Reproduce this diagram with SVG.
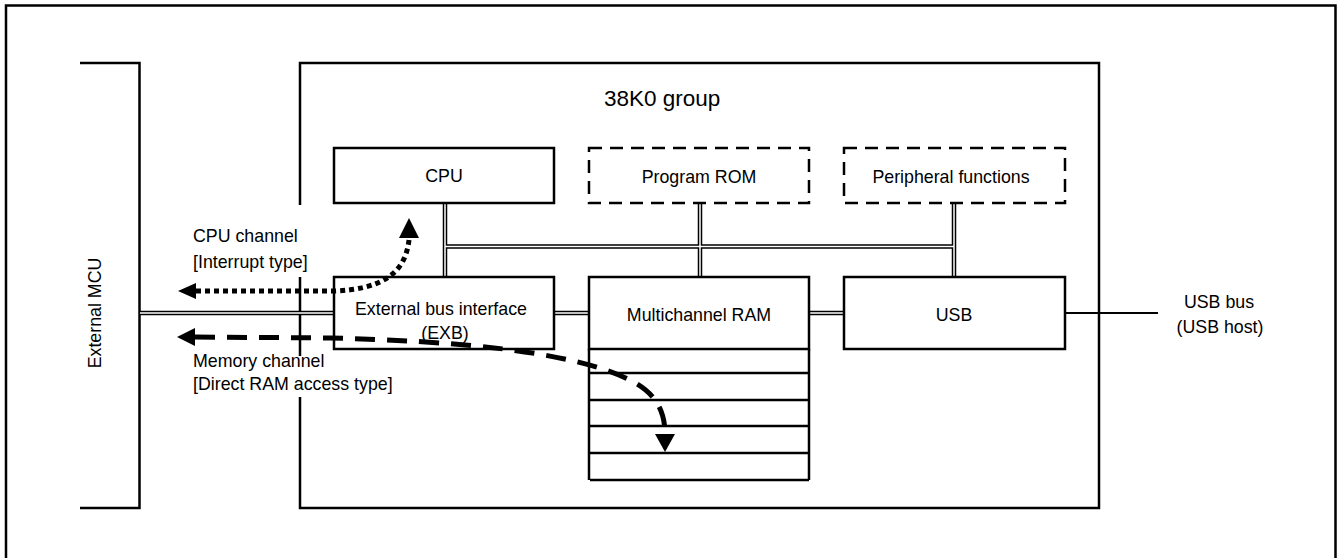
<svg xmlns="http://www.w3.org/2000/svg" width="1339" height="558" viewBox="0 0 1339 558">
<style>
text{font-family:"Liberation Sans",Arial,sans-serif;fill:#000;font-size:17.8px}
.c{text-anchor:middle}
.box{fill:#fff;stroke:#000;stroke-width:2.5}
.dbox{fill:#fff;stroke:#000;stroke-width:2.5;stroke-dasharray:13 8}
.ln{fill:none;stroke:#000;stroke-width:2.5}
.bb{fill:none;stroke:#000;stroke-width:4.5}
.bw{fill:none;stroke:#fff;stroke-width:1.5}
.dot{fill:none;stroke:#000;stroke-width:5;stroke-dasharray:5 4}
.dash{fill:none;stroke:#000;stroke-width:5;stroke-dasharray:20 12}
.ah{fill:#000}
</style>
<rect width="1339" height="558" fill="#fff"/>
<path class="ln" d="M6,562 V5.5 H1335.5 V562"/>
<g id="external-mcu">
<path class="ln" d="M80,63 H139.5 V508 H80"/>
<text class="c" transform="translate(101,313) rotate(-90)">External MCU</text>
</g>
<g id="group-38k0">
<rect class="box" x="300" y="63" width="799" height="445"/>
<text x="604" y="106" style="font-size:22.5px">38K0 group</text>
</g>
<g id="connectors">
<path class="bb" d="M445,203 V277 M700,203 V277 M954,203 V277 M443,246.5 H956 M140,313 H334 M554,313 H589 M809,313 H844"/>
<path class="bw" d="M445,203 V277 M700,203 V277 M954,203 V277 M445,246.5 H954 M140,313 H334 M554,313 H589 M809,313 H844"/>
<path class="ln" d="M1065,313 H1158" style="stroke-width:2"/>
</g>
<g id="cpu"><rect class="box" x="334" y="148" width="220" height="55"/><text class="c" x="444" y="182">CPU</text></g>
<g id="program-rom"><rect class="dbox" x="589" y="148" width="220" height="55"/><text class="c" x="699" y="183">Program ROM</text></g>
<g id="peripheral"><rect class="dbox" x="844" y="148" width="221" height="55"/><text class="c" x="951" y="183">Peripheral functions</text></g>
<g id="exb"><rect class="box" x="334" y="277" width="220" height="72"/><text class="c" x="441" y="315">External bus interface</text><text class="c" x="445" y="339">(EXB)</text></g>
<g id="multichannel-ram"><rect class="box" x="589" y="277" width="220" height="72"/><text class="c" x="699" y="321">Multichannel RAM</text>
<path class="ln" d="M589,349 V480 M809,349 V480 M590,373 H809 M590,400 H809 M590,426 H809 M590,453 H809 M590,480 H809"/></g>
<g id="usb"><rect class="box" x="844" y="277" width="221" height="72"/><text class="c" x="954" y="321">USB</text></g>
<g id="usb-bus"><text class="c" x="1219" y="308">USB bus</text><text class="c" x="1220" y="333">(USB host)</text></g>
<g id="cpu-channel">
<rect x="188" y="205" width="124" height="72" fill="#fff"/>
<text x="193" y="242">CPU channel</text>
<text x="193" y="268">[Interrupt type]</text>
<path class="dot" d="M196,291 L335,291 C380,289 405,275 409,240"/>
<polygon class="ah" points="178,291 196,283 196,299"/>
<polygon class="ah" points="409,218 399,238 419,238"/>
</g>
<g id="memory-channel">
<rect x="188" y="356" width="215" height="41" fill="#fff"/>
<text x="193" y="367">Memory channel</text>
<text x="193" y="390">[Direct RAM access type]</text>
<path class="dash" d="M195,337 L330,338 C450,341 570,350 630,380 C650,390 665,405 665,434"/>
<polygon class="ah" points="177,337 195,328 195,346"/>
<polygon class="ah" points="665,452 655,434 675,434"/>
</g>
</svg>
